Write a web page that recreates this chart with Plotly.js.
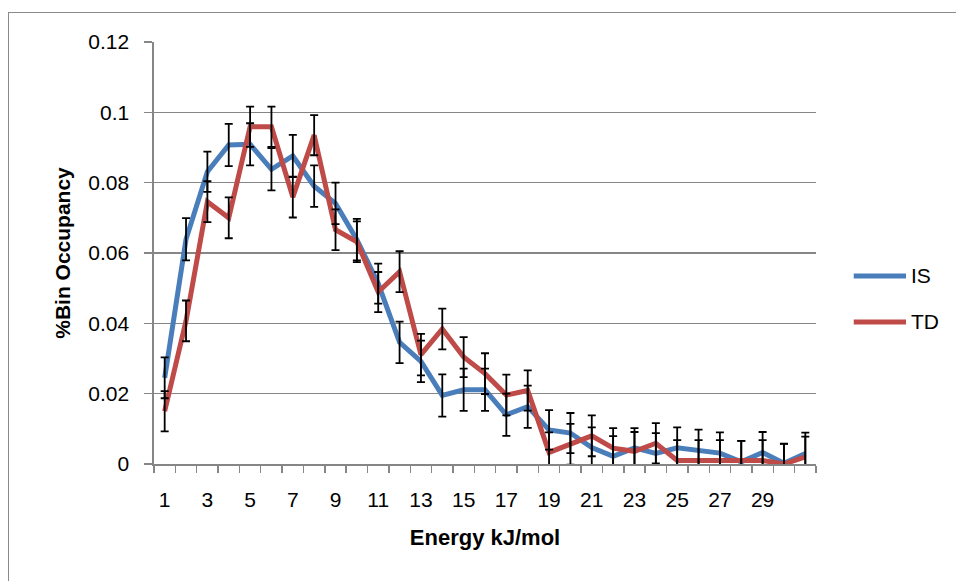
<!DOCTYPE html>
<html>
<head>
<meta charset="utf-8">
<script src="https://cdn.plot.ly/plotly-3.0.1.min.js"></script>
<style>
  html, body { margin: 0; padding: 0; background: #ffffff; overflow: hidden; }
  #chart { width: 956px; height: 581px; position: relative; }
  #frame { position: absolute; left: 8px; top: 12px; width: 1200px; height: 900px;
           border: 1px solid #8a8a8a; pointer-events: none; }
</style>
</head>
<body>
<div id="chart"></div>
<div id="frame"></div>
<script>
// Energy bins (kJ/mol)
const energyBins = [1,2,3,4,5,6,7,8,9,10,11,12,13,14,15,16,17,18,19,20,21,22,23,24,25,26,27,28,29,30,31];
const xTickLabels = [1,3,5,7,9,11,13,15,17,19,21,23,25,27,29];

// Bin occupancy for each method
const isValues = [0.0245,0.0639,0.0831,0.0907,0.0909,0.0838,0.0876,0.0790,0.0741,0.0638,
                  0.0513,0.0346,0.0292,0.0195,0.0211,0.0211,0.0140,0.0163,0.0097,0.0088,
                  0.0047,0.0022,0.0046,0.0030,0.0046,0.0040,0.0031,0.0006,0.0033,0.0002,0.0030];
const tdValues = [0.0150,0.0407,0.0746,0.0700,0.0959,0.0959,0.0759,0.0935,0.0666,0.0632,
                  0.0489,0.0547,0.0311,0.0384,0.0304,0.0257,0.0196,0.0209,0.0033,0.0056,
                  0.0080,0.0045,0.0036,0.0059,0.0010,0.0010,0.0010,0.0010,0.0010,0.0000,0.0020];

// Standard error of each bin
const isErrors = [0.0058,0.0060,0.0057,0.0060,0.0060,0.0060,0.0060,0.0059,0.0059,0.0059,
                  0.0057,0.0059,0.0059,0.0060,0.0060,0.0060,0.0060,0.0060,0.0056,0.0057,
                  0.0057,0.0057,0.0056,0.0058,0.0058,0.0058,0.0059,0.0060,0.0058,0.0056,0.0059];
const tdErrors = [0.0057,0.0058,0.0058,0.0058,0.0057,0.0057,0.0058,0.0057,0.0058,0.0058,
                  0.0057,0.0058,0.0059,0.0058,0.0057,0.0058,0.0058,0.0057,0.0057,0.0058,
                  0.0058,0.0057,0.0055,0.0057,0.0058,0.0058,0.0058,0.0056,0.0058,0.0057,0.0058];

const seriesNames = ['IS', 'TD'];
const seriesColors = ['#4a7ebb', '#be4b48'];

const FONT = 'Liberation Sans, Arial, sans-serif';

const lineTrace = (y, name, color) => ({
  x: energyBins, y: y, name: name, type: 'scatter', mode: 'lines',
  line: { color: color, width: 5, shape: 'linear' },
  showlegend: false, hoverinfo: 'x+y'
});

const errTrace = (y, err) => ({
  x: energyBins, y: y, type: 'scatter', mode: 'markers',
  marker: { size: 1, opacity: 0 },
  error_y: { type: 'data', array: err, visible: true, color: '#000000', thickness: 1.8, width: 4 },
  showlegend: false, hoverinfo: 'skip'
});

const traces = [
  lineTrace(isValues, seriesNames[0], seriesColors[0]),
  lineTrace(tdValues, seriesNames[1], seriesColors[1]),
  errTrace(isValues, isErrors),
  errTrace(tdValues, tdErrors)
];

// Legend drawn beside the plot area with longer sample lines
const legendY = [0.4455, 0.3365];
const shapes = seriesNames.map((n, i) => ({
  type: 'line', xref: 'paper', yref: 'paper',
  x0: 1.057, x1: 1.136, y0: legendY[i], y1: legendY[i],
  line: { color: seriesColors[i], width: 5 }
}));
const annotations = seriesNames.map((n, i) => ({
  xref: 'paper', yref: 'paper', x: 1.140, y: legendY[i],
  xanchor: 'left', yanchor: 'middle', showarrow: false,
  text: n, font: { family: FONT, size: 21, color: '#000000' }
}));

const layout = {
  width: 956, height: 581,
  margin: { l: 154, r: 140, t: 42, b: 117, pad: 0 },
  paper_bgcolor: '#ffffff', plot_bgcolor: '#ffffff',
  showlegend: false,
  font: { family: FONT, size: 21, color: '#000000' },
  xaxis: {
    range: [0.5, 31.5], tickmode: 'array', tickvals: xTickLabels,
    ticktext: xTickLabels.map(String), ticks: '', ticklabelstandoff: 16,
    showgrid: false, zeroline: false,
    showline: true, linecolor: '#868686', linewidth: 1.6,
    minor: { tick0: 0.5, dtick: 1, ticks: 'outside', ticklen: 7, tickwidth: 1.4, tickcolor: '#868686', showgrid: false },
    title: { text: 'Energy kJ/mol', font: { family: FONT, size: 22, weight: 'bold', color: '#000000' }, standoff: 20 },
    tickfont: { family: FONT, size: 21, color: '#000000' }
  },
  yaxis: {
    range: [0, 0.12], tickmode: 'array', tickvals: [0, 0.02, 0.04, 0.06, 0.08, 0.1, 0.12],
    ticktext: ['0', '0.02', '0.04', '0.06', '0.08', '0.1', '0.12'],
    ticks: 'outside', ticklen: 8, tickwidth: 1.4, tickcolor: '#868686', ticklabelstandoff: 11,
    showgrid: true, gridcolor: '#868686', gridwidth: 1.6, zeroline: false,
    showline: true, linecolor: '#868686', linewidth: 1.6,
    title: { text: '%Bin Occupancy', font: { family: FONT, size: 21, weight: 'bold', color: '#000000' }, standoff: 12 },
    tickfont: { family: FONT, size: 21, color: '#000000' }
  },
  shapes: shapes,
  annotations: annotations
};

Plotly.newPlot('chart', traces, layout, { displayModeBar: false, staticPlot: true });
</script>
</body>
</html>
